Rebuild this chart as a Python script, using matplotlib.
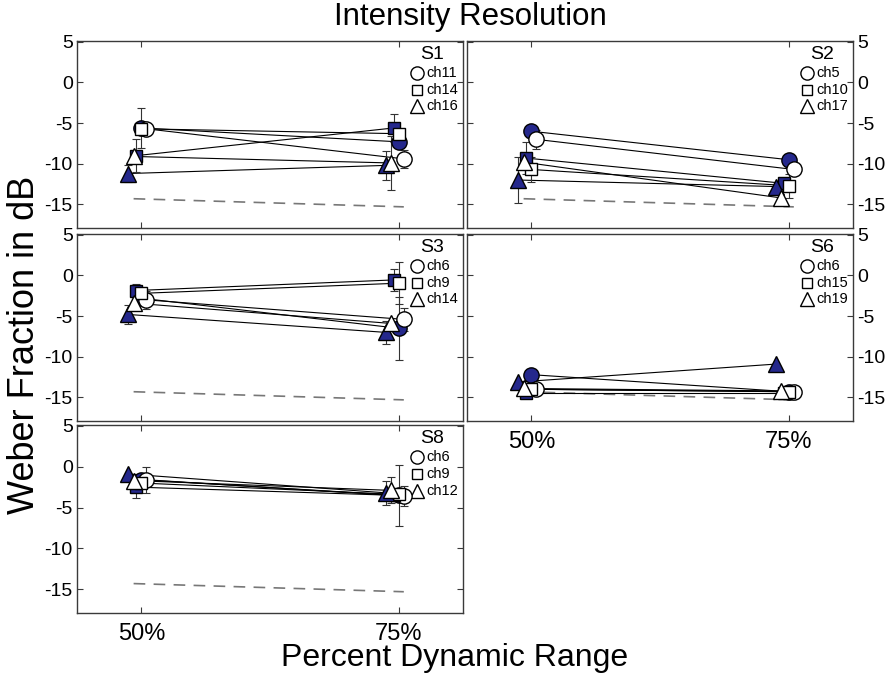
import numpy as np
import matplotlib.pyplot as plt

plt.rcParams['font.family'] = ['Liberation Sans', 'DejaVu Sans']
plt.rcParams['axes.unicode_minus'] = False

levels = ['50%', '75%']

# Weber fractions (dB) at 50% / 75% DR; filled = one condition, open = the other
subjects = ['S1', 'S2', 'S3', 'S6', 'S8']
channels = {
    'S1': ['ch11', 'ch14', 'ch16'],
    'S2': ['ch5', 'ch10', 'ch17'],
    'S3': ['ch6', 'ch9', 'ch14'],
    'S6': ['ch6', 'ch15', 'ch19'],
    'S8': ['ch6', 'ch9', 'ch12'],
}

# order inside each subject: circle, square, triangle
filled = {
    'S1': [[-5.6, -7.3], [-9.0, -5.6], [-11.2, -10.2]],
    'S2': [[-6.0, -9.5], [-9.3, -12.4], [-12.0, -12.8]],
    'S3': [[-2.8, -6.5], [-1.85, -0.55], [-4.8, -7.0]],
    'S6': [[-12.2, -14.3], [-14.4, -14.4], [-13.1, -10.9]],
    'S8': [[-1.6, -3.5], [-2.5, -3.5], [-0.9, -3.2]],
}
opened = {
    'S1': [[-5.7, -9.4], [-5.7, -6.3], [-9.1, -9.9]],
    'S2': [[-7.0, -10.7], [-10.7, -12.7], [-9.8, -14.2]],
    'S3': [[-3.0, -5.4], [-2.2, -0.95], [-3.4, -5.9]],
    'S6': [[-14.0, -14.3], [-14.0, -14.3], [-13.9, -14.2]],
    'S8': [[-1.6, -3.6], [-2.0, -3.4], [-1.7, -2.9]],
}
filled_err = {
    'S1': [[2.5, 0.0], [2.0, 1.7], [1.1, 1.8]],
    'S2': [[0.0, 0.0], [2.0, 0.0], [2.8, 0.0]],
    'S3': [[0.0, 3.9], [0.8, 1.35], [1.2, 1.4]],
    'S6': [[0.7, 0.0], [0.0, 0.0], [0.0, 0.0]],
    'S8': [[0.0, 3.7], [1.3, 0.0], [0.0, 1.5]],
}
opened_err = {
    'S1': [[0.0, 1.1], [0.0, 0.0], [0.0, 3.3]],
    'S2': [[1.2, 0.0], [1.5, 1.5], [0.0, 0.0]],
    'S3': [[1.1, 1.4], [0.0, 2.55], [0.0, 0.0]],
    'S6': [[0.0, 0.0], [0.0, 0.0], [0.0, 0.0]],
    'S8': [[1.6, 1.2], [0.0, 0.0], [0.0, 1.6]],
}

# reference dashed line
ref_x = [0.97, 2.02]
ref_y = [-14.3, -15.3]

navy = '#25288c'
frame = '#3a3a3a'
markers = ['o', 's', '^']
msizes = [11, 9, 11.5]
# horizontal jitter (filled, open) for each marker type
shifts = [(0.0, 0.02), (-0.02, 0.0), (-0.05, -0.03)]

W, H = 886, 677
fig = plt.figure(figsize=(W / 100, H / 100), dpi=100)

def ax_rect(x0, x1, y0, y1):
    return [x0 / W, 1 - y1 / H, (x1 - x0) / W, (y1 - y0) / H]

rects = {
    'S1': ax_rect(77, 463, 41, 228),
    'S2': ax_rect(467, 853, 41, 228),
    'S3': ax_rect(77, 463, 234, 421),
    'S6': ax_rect(467, 853, 234, 421),
    'S8': ax_rect(77, 463, 425, 613),
}

for s in subjects:
    ax = fig.add_axes(rects[s])
    right = s in ('S2', 'S6')
    bottom = s in ('S6', 'S8')

    ax.plot(ref_x, ref_y, color='#777777', lw=1.2, dashes=(7, 5), zorder=1)

    for i in range(3):
        for vals, errs, kind in ((filled[s][i], filled_err[s][i], 0),
                                 (opened[s][i], opened_err[s][i], 1)):
            xs = np.array([1, 2]) + shifts[i][kind]
            ax.plot(xs, vals, color='black', lw=0.8, zorder=2)
            errs = np.array(errs)
            m = errs > 0
            if m.any():
                ax.errorbar(xs[m], np.array(vals)[m], yerr=errs[m], fmt='none',
                            ecolor='#333333', elinewidth=0.8, capsize=3,
                            capthick=0.8, zorder=3)
    for i in range(3):
        for vals, kind in ((filled[s][i], 0), (opened[s][i], 1)):
            xs = np.array([1, 2]) + shifts[i][kind]
            ax.plot(xs, vals, linestyle='none', marker=markers[i],
                    ms=msizes[i], mfc=navy if kind == 0 else 'white',
                    mec='black', mew=1.0, zorder=4 + i * 2 + kind)

    # channel key
    ax.text(0.92, 0.93, s, transform=ax.transAxes, ha='center', va='center',
            fontsize=14)
    for i, ch in enumerate(channels[s]):
        yk = 0.83 - 0.09 * i
        ax.plot([0.882], [yk], transform=ax.transAxes, linestyle='none',
                marker=markers[i], ms=msizes[i] - 1.5, mfc='white', mec='black',
                mew=1.0, clip_on=False)
        ax.text(0.905, yk, ch, transform=ax.transAxes, ha='left', va='center',
                fontsize=10.5)

    ax.set_xlim(0.75, 2.25)
    ax.set_ylim(-17.9, 5.1)
    ax.set_xticks([1, 2])
    ax.set_yticks([5, 0, -5, -10, -15])
    ax.tick_params(direction='in', length=4, width=0.8, color=frame,
                   top=True, right=True, labelsize=14, pad=3)
    ax.tick_params(axis='x', labelsize=17, pad=7)
    if bottom:
        ax.set_xticklabels(levels)
    else:
        ax.set_xticklabels([])
    if right:
        ax.yaxis.tick_right()
        ax.tick_params(axis='y', left=True, right=True, direction='in')
    for sp in ax.spines.values():
        sp.set_color(frame)
        sp.set_linewidth(1.0)

fig.text(470 / W, 1 - 17 / H, 'Intensity Resolution', ha='center',
         va='center', fontsize=22.5)
fig.text(455 / W, 1 - 658 / H, 'Percent Dynamic Range', ha='center',
         va='center', fontsize=23)
fig.text(25 / W, 1 - 345 / H, 'Weber Fraction in dB', ha='center',
         va='center', rotation=90, fontsize=26)

fig.savefig('out.png', dpi=100)
